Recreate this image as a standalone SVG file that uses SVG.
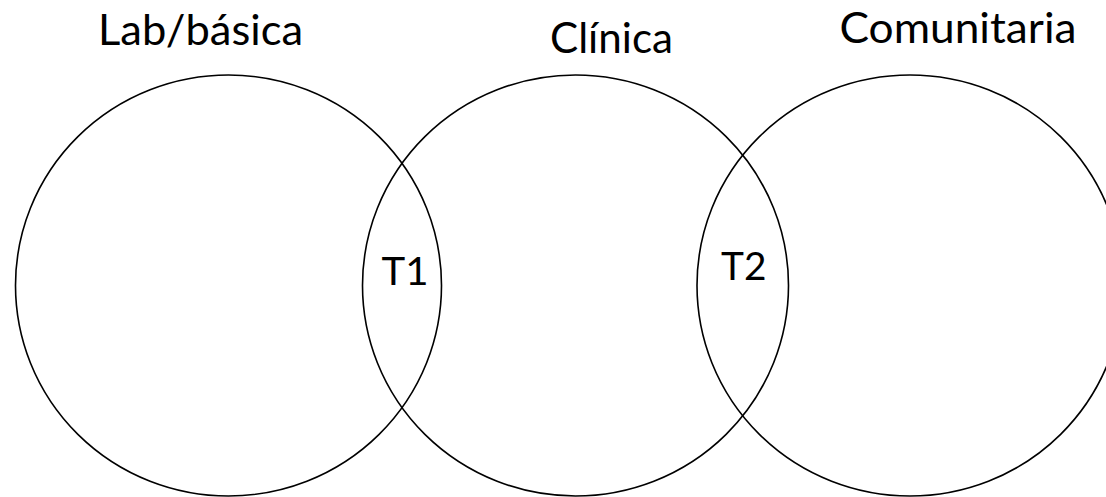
<svg xmlns="http://www.w3.org/2000/svg" width="1106" height="497" viewBox="0 0 1106 497">
<style>
.c{fill:none;stroke:#000;stroke-width:1.6}
.t{font-family:Lato,"Liberation Sans",sans-serif;fill:#000}
.big{font-size:43px}
.sm{font-size:39.5px}
</style>
<rect width="1106" height="497" fill="#fff"/>
<g id="lab">
<ellipse class="c" cx="228.5" cy="285.5" rx="213" ry="210.5"/>
<text class="t big" x="98" y="45" textLength="205" lengthAdjust="spacingAndGlyphs">Lab/básica</text>
</g>
<g id="clinica">
<ellipse class="c" cx="575.5" cy="285.5" rx="213" ry="210.5"/>
<text class="t big" x="550" y="53.3" textLength="123" lengthAdjust="spacingAndGlyphs">Clínica</text>
</g>
<g id="comunitaria">
<ellipse class="c" cx="910" cy="285.5" rx="213" ry="210.5"/>
<text class="t big" x="839.5" y="42.7" textLength="237" lengthAdjust="spacingAndGlyphs">Comunitaria</text>
</g>
<g id="t1">
<text class="t sm" x="381.5" y="285" textLength="47" lengthAdjust="spacingAndGlyphs">T1</text>
</g>
<g id="t2">
<text class="t sm" x="721" y="280" textLength="45.5" lengthAdjust="spacingAndGlyphs">T2</text>
</g>
<g id="connectors"></g>
</svg>
